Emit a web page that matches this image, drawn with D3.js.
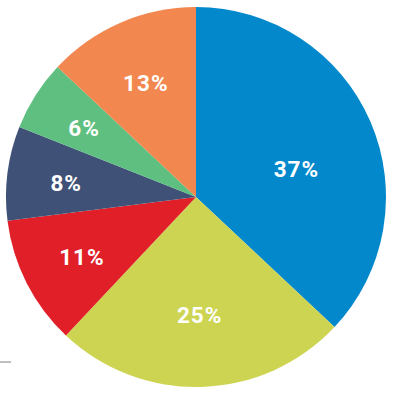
<!DOCTYPE html>
<html>
<head>
<meta charset="utf-8">
<script src="https://cdn.jsdelivr.net/npm/d3@7"></script>
<style>
  body { margin: 0; background: #fff; }
  svg { display: block; }
</style>
</head>
<body>
<div id="chart"></div>
<script>
var categories = ["A", "B", "C", "D", "E", "F"];
var values = [37, 25, 11, 8, 6, 13];
var labels = ["37%", "25%", "11%", "8%", "6%", "13%"];
var colors = ["#0288cb", "#cdd451", "#e01f29", "#3f5177", "#5ebf80", "#f2874f"];

var width = 395, height = 402;
var cx = 196, cy = 197, radius = 190;

var svg = d3.select("#chart")
    .append("svg")
    .attr("width", width)
    .attr("height", height);

// little grey tick at left edge
svg.append("line")
    .attr("x1", 0).attr("x2", 11)
    .attr("y1", 362).attr("y2", 362)
    .attr("stroke", "#aaaaaa")
    .attr("stroke-width", 1.5);

var g = svg.append("g")
    .attr("transform", "translate(" + cx + "," + cy + ")");

var pie = d3.pie().sort(null).value(function(d) { return d; });
var arcs = pie(values);

var arc = d3.arc().innerRadius(0).outerRadius(radius);

g.selectAll("path")
    .data(arcs)
    .enter()
    .append("path")
    .attr("d", arc)
    .attr("fill", function(d, i) { return colors[i]; });

// smaller slices get their label pushed further out
g.selectAll("text")
    .data(arcs)
    .enter()
    .append("text")
    .attr("transform", function(d) {
        var r = 138 - d.value * 0.9;
        var a = (d.startAngle + d.endAngle) / 2;
        if (d.value > 30) a += 0.12;
        return "translate(" + (r * Math.sin(a)) + "," + (-r * Math.cos(a)) + ")";
    })
    .attr("text-anchor", "middle")
    .attr("dy", "0.45em")
    .style("font-family", "Roboto, sans-serif")
    .style("font-weight", "bold")
    .style("font-size", "22.5px")
    .style("letter-spacing", "1px")
    .style("fill", "#fff")
    .text(function(d, i) { return labels[i]; });
</script>
</body>
</html>
